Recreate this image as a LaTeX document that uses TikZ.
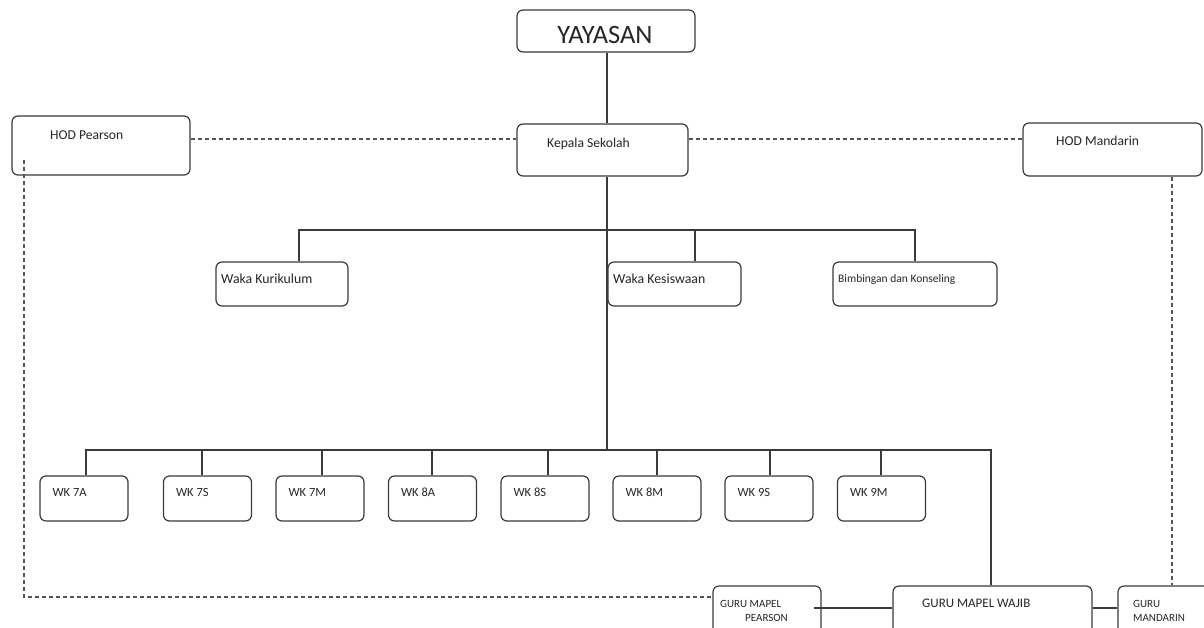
\documentclass[tikz,border=0pt]{standalone}
\usepackage{fontspec}
\setmainfont{Carlito}
\usetikzlibrary{calc}
\definecolor{ln}{HTML}{3A3A3A}
\definecolor{tx}{HTML}{262626}
\definecolor{dsh}{HTML}{555555}
\tikzset{
 box/.style={draw=ln, line width=1.2pt, rounded corners=6pt, inner sep=0pt, fill=white},
 conn/.style={draw=ln, line width=1.1pt},
 dline/.style={draw=dsh, line width=1.1pt, dash pattern=on 4pt off 3pt},
 txt/.style={text=tx, inner sep=0pt, anchor=base west},
 wk/.style={box, minimum width=88pt, minimum height=45pt},
}
\begin{document}
\begin{tikzpicture}[x=1pt,y=-1pt]
\useasboundingbox (0,0) rectangle (1204,627);
% coordinates
\coordinate (trunk) at (607,0);
\coordinate (dl) at (0,139);
\coordinate (bus1) at (299,230);
\coordinate (bus2) at (86,450);
\coordinate (low) at (0,608);
% boxes
\node[box, minimum width=178pt, minimum height=42pt] (yay) at (606,31) {};
\node[box, minimum width=171pt, minimum height=52pt] (kep) at (602.5,150) {};
\node[box, minimum width=178pt, minimum height=59pt] (hodp) at (101,145.5) {};
\node[box, minimum width=179pt, minimum height=53pt] (hodm) at (1112.5,149.5) {};
\node[box, minimum width=132pt, minimum height=44pt] (kur) at (282,284) {};
\node[box, minimum width=133pt, minimum height=44pt] (kes) at (674.5,284) {};
\node[box, minimum width=164pt, minimum height=44pt] (bk) at (915,284) {};
\node[wk] (w7a) at (84,498.5) {};
\node[wk] (w7s) at (207.5,498.5) {};
\node[wk] (w7m) at (320,498.5) {};
\node[wk] (w8a) at (432.5,498.5) {};
\node[wk] (w8s) at (545,498.5) {};
\node[wk] (w8m) at (657,498.5) {};
\node[wk] (w9s) at (769,498.5) {};
\node[wk] (w9m) at (881.5,498.5) {};
\node[box, minimum width=108pt, minimum height=54pt] (gmp) at (767,613) {};
\node[box, minimum width=199pt, minimum height=54pt] (waj) at (992.5,613) {};
\node[box, minimum width=94pt, minimum height=54pt] (gm) at (1165,613) {};
% solid connectors
\draw[conn] (yay.south -| trunk) -- (kep.north -| trunk);
\draw[conn] (kep.south -| trunk) -- (bus2 -| trunk);
\draw[conn] (kur.north -| bus1) -- (bus1) -| (bk.north);
\draw[conn] (kes.north -| 695,0) -- (bus1 -| 695,0);
\draw[conn] (w7a.north -| bus2) -- (bus2) -| (waj.north -| 991,0);
\draw[conn] (w7s.north -| 202,0) -- (bus2 -| 202,0);
\draw[conn] (w7m.north -| 322,0) -- (bus2 -| 322,0);
\draw[conn] (w8a.north -| 432,0) -- (bus2 -| 432,0);
\draw[conn] (w8s.north -| 548,0) -- (bus2 -| 548,0);
\draw[conn] (w8m.north) -- (bus2 -| w8m.north);
\draw[conn] (w9s.north -| 770,0) -- (bus2 -| 770,0);
\draw[conn] (w9m.north -| 881,0) -- (bus2 -| 881,0);
\draw[conn] ($(gmp.east |- low)+(-8,0)$) -- (waj.west |- low);
\draw[conn] (waj.east |- low) -- (gm.west |- low);
% dashed connectors
\draw[dline] (hodp.east |- dl) -- (kep.west |- dl);
\draw[dline] (kep.east |- dl) -- (hodm.west |- dl);
\draw[dline] (hodm.south -| 1172,0) -- (gm.north -| 1172,0);
\draw[dline] (24,160) -- (24,597) -- (gmp.west |- 0,597);
% texts
\node[txt, anchor=base, font=\fontsize{26.5}{28}\selectfont] (t-yay) at (605,43) {YAYASAN};
\node[txt, font=\fontsize{13.6}{15}\selectfont] (t-kep) at (547,147) {Kepala Sekolah};
\node[txt, font=\fontsize{13.6}{15}\selectfont] (t-hodp) at (50,139) {HOD Pearson};
\node[txt, font=\fontsize{13.6}{15}\selectfont] (t-hodm) at (1056,145) {HOD Mandarin};
\node[txt, font=\fontsize{13.8}{15}\selectfont] (t-kur) at (221,283) {Waka Kurikulum};
\node[txt, font=\fontsize{13.8}{15}\selectfont] (t-kes) at (613,283) {Waka Kesiswaan};
\node[txt, font=\fontsize{11.5}{13}\selectfont] (t-bk) at (838,282) {Bimbingan dan Konseling};
\foreach \n/\t in {w7a/WK 7A, w7s/WK 7S, w7m/WK 7M, w8a/WK 8A, w8s/WK 8S, w8m/WK 8M, w9s/WK 9S, w9m/WK 9M}{
  \node[txt, font=\fontsize{12.5}{14}\selectfont] (t-\n) at ($(\n.north west)+(13,21)$) {\t};
}
\node[txt, font=\fontsize{11}{13}\selectfont] (t-gmp1) at (720,607) {GURU MAPEL};
\node[txt, font=\fontsize{11}{13}\selectfont] (t-gmp2) at (745,621) {PEARSON};
\node[txt, font=\fontsize{13}{15}\selectfont] (t-waj) at (922,607) {GURU MAPEL WAJIB};
\node[txt, font=\fontsize{11}{13}\selectfont] (t-gm1) at (1133,607) {GURU};
\node[txt, font=\fontsize{11}{13}\selectfont] (t-gm2) at (1133,621) {MANDARIN};
\end{tikzpicture}
\end{document}
